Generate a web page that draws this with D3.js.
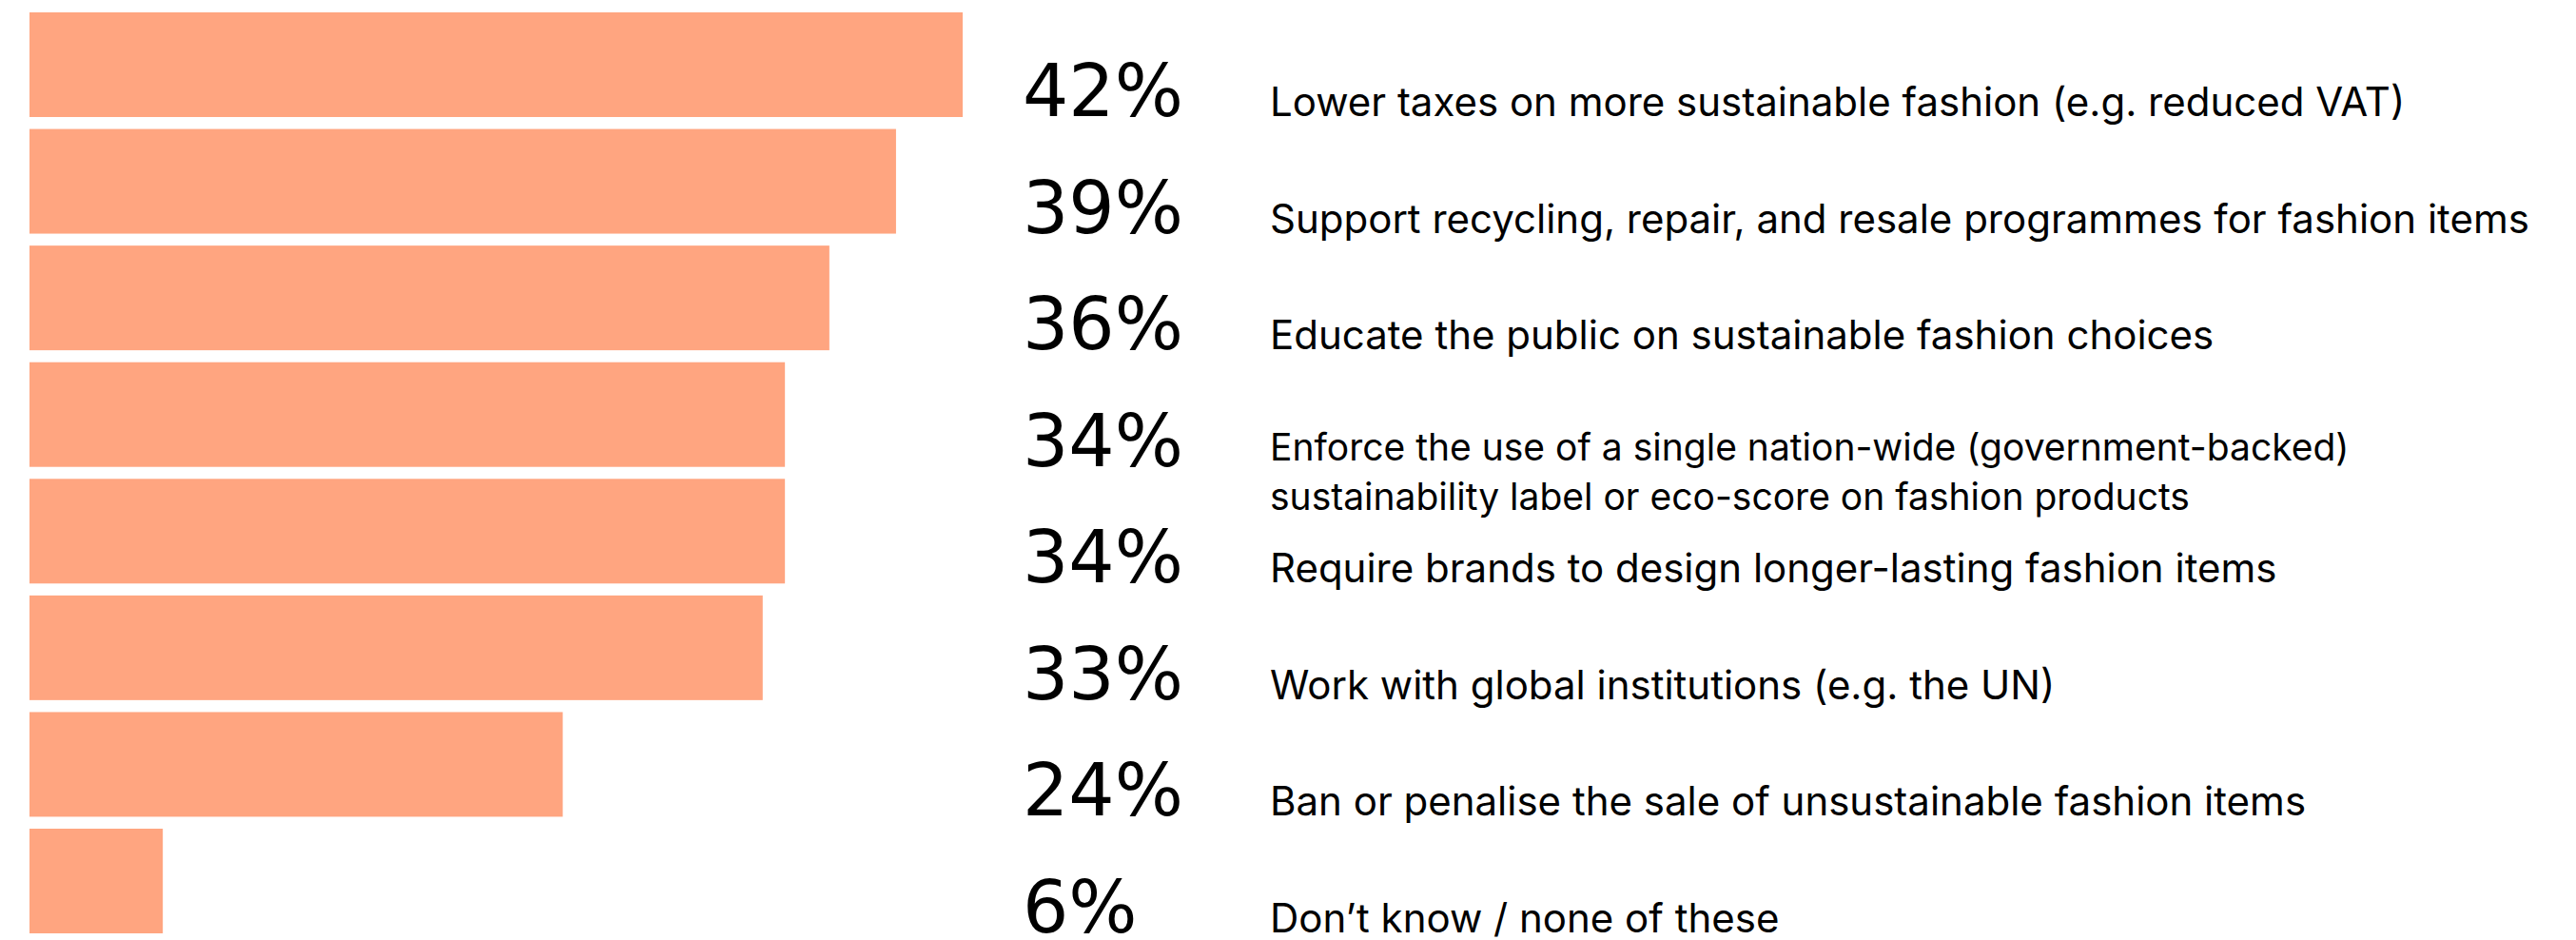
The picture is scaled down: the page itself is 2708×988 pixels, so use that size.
<!DOCTYPE html>
<html>
<head>
<meta charset="utf-8">
<script src="https://cdn.jsdelivr.net/npm/d3@7"></script>
<style>
  html, body { margin: 0; padding: 0; background: #ffffff; }
  svg { display: block; }
</style>
</head>
<body>
<svg id="chart" width="2708" height="988"></svg>
<script>
// Share of respondents choosing each policy action (%)
const categories = [
  "Lower taxes on more sustainable fashion (e.g. reduced VAT)",
  "Support recycling, repair, and resale programmes for fashion items",
  "Educate the public on sustainable fashion choices",
  "Enforce the use of a single nation-wide (government-backed)\nsustainability label or eco-score on fashion products",
  "Require brands to design longer-lasting fashion items",
  "Work with global institutions (e.g. the UN)",
  "Ban or penalise the sale of unsustainable fashion items",
  "Don\u2019t know / none of these"
];
const values = [42, 39, 36, 34, 34, 33, 24, 6];

const svg = d3.select("#chart");

const rows = categories.map((c, i) => ({ id: i, label: c, value: values[i] }));

const x = d3.scaleLinear()
  .domain([0, d3.max(values)])
  .range([31, 1012]);

const y = d3.scaleBand()
  .domain(rows.map(d => d.id))
  .range([13, 981])
  .paddingInner(0.1026)
  .paddingOuter(0);

// Bars
svg.append("g")
  .selectAll("rect")
  .data(rows)
  .join("rect")
  .attr("x", x(0))
  .attr("y", d => y(d.id))
  .attr("width", d => x(d.value) - x(0))
  .attr("height", y.bandwidth())
  .attr("fill", "#ffa580");

// Percentage labels, baseline on the bar's bottom edge
svg.append("g")
  .selectAll("text")
  .data(rows)
  .join("text")
  .attr("x", 1075)
  .attr("y", d => y(d.id) + y.bandwidth() - 1)
  .attr("font-family", "'DejaVu Sans', sans-serif")
  .attr("font-size", 76)
  .attr("fill", "#000")
  .text(d => d.value + "%");

// Category descriptions
svg.append("g")
  .selectAll("text")
  .data(rows)
  .join("text")
  .attr("x", 1335)
  .attr("font-family", "Inter, sans-serif")
  .attr("fill", "#000")
  .each(function (d) {
    const lines = d.label.split("\n");
    const t = d3.select(this);
    const bottom = y(d.id) + y.bandwidth();
    if (lines.length === 1) {
      t.attr("font-size", 42).attr("y", bottom - 1);
      t.text(lines[0]);
    } else {
      t.attr("font-size", 39).attr("y", bottom - 7);
      lines.forEach((ln, k) => {
        t.append("tspan")
          .attr("x", 1335)
          .attr("dy", k === 0 ? 0 : 52.5)
          .text(ln);
      });
    }
  });
</script>
</body>
</html>
